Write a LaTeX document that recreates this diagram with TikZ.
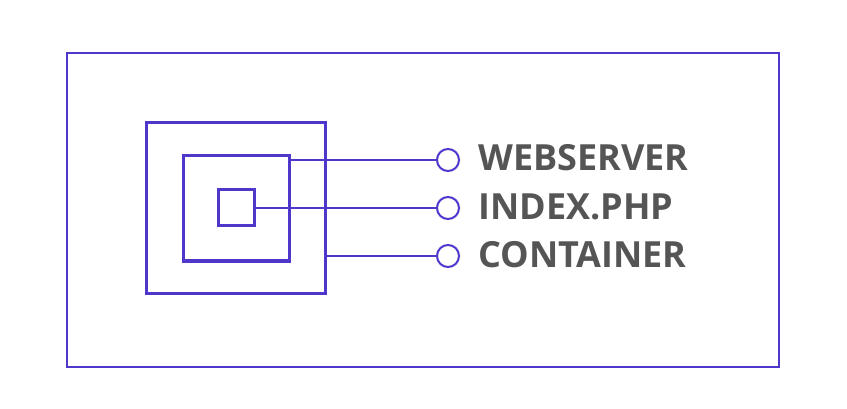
\documentclass[tikz,border=0pt]{standalone}
\usepackage{fontspec}
\setmainfont{Open Sans}
\definecolor{accent}{RGB}{78,56,204}
\definecolor{txt}{RGB}{85,85,85}
\begin{document}
\begin{tikzpicture}[x=1pt,y=-1pt,
  frame/.style={draw=accent,line width=2pt},
  sq/.style={draw=accent,line width=3pt},
  wire/.style={draw=accent,line width=1.5pt},
  pin/.style={draw=accent,line width=2pt,circle,minimum size=22pt,inner sep=0pt,fill=white},
  lbl/.style={text=txt,font=\fontsize{36}{40}\selectfont\bfseries,anchor=base west,inner sep=0pt}]
\useasboundingbox (0,0) rectangle (847,409);
\draw[frame] (67,53) rectangle (779,367);
\coordinate (bigR) at (325,256);
\coordinate (midR) at (289,160);
\coordinate (smlR) at (254,208);
\node[pin] (p1) at (448,160) {};
\node[pin] (p2) at (448,208) {};
\node[pin] (p3) at (448,256) {};
\draw[wire] (midR) -- (p1);
\draw[wire] (smlR) -- (p2);
\draw[wire] (bigR) -- (p3);
\draw[sq] (146,123) rectangle (325,293);
\draw[sq] (183,156) rectangle (289,261);
\draw[sq] (218,190) rectangle (254,226);
\node[lbl] (t1) at (478,171) {WEBSERVER};
\node[lbl] (t2) at (478,219.5) {INDEX.PHP};
\node[lbl] (t3) at (478,268) {CONTAINER};
\end{tikzpicture}
\end{document}
